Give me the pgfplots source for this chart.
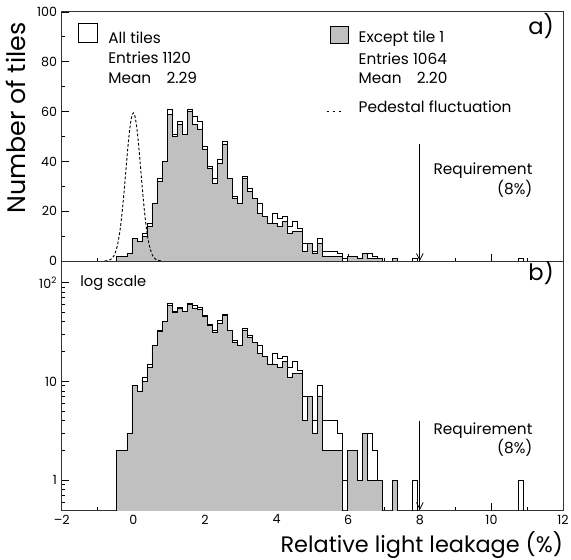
\documentclass[border=0pt]{standalone}
\usepackage{pgfplots}
\pgfplotsset{compat=1.18}
\usepackage{pgfplotstable}
\usetikzlibrary{arrows.meta}
\usepackage{fontspec}
\setmainfont{Poppins}
\definecolor{histgray}{RGB}{192,192,192}
\definecolor{framecol}{RGB}{50,50,50}

\pgfplotstableread{
x A E
-0.60 0 0
-0.46 2 2
-0.32 2 2
-0.18 3 3
-0.04 9 9
0.10 8 8
0.24 11 10
0.38 15 14
0.52 23 23
0.66 33 32
0.80 40 40
0.94 61 59
1.08 51 50
1.22 56 55
1.36 51 51
1.50 61 60
1.64 58 55
1.78 56 53
1.92 46 45
2.06 38 37
2.20 33 31
2.34 41 39
2.48 48 47
2.62 33 33
2.76 26 25
2.90 23 23
3.04 34 33
3.18 29 28
3.32 25 25
3.46 23 19
3.60 18 18
3.74 15 15
3.88 19 15
4.02 17 14
4.16 18 16
4.30 14 11
4.44 16 12
4.58 13 12
4.72 7 4
4.86 7 7
5.00 4 3
5.14 9 7
5.28 4 2
5.42 4 2
5.56 4 2
5.70 3 2
5.84 1 0
5.98 2 2
6.12 2 2
6.26 1 1
6.40 3 3
6.54 3 1
6.68 2 1
6.82 1 1
6.96 0 0
7.10 0 0
7.24 1 1
7.38 0 0
7.52 0 0
7.66 0 0
7.80 1 0
7.94 0 0
8.08 0 0
8.22 0 0
8.36 0 0
8.50 0 0
8.64 0 0
8.78 0 0
8.92 0 0
9.06 0 0
9.20 0 0
9.34 0 0
9.48 0 0
9.62 0 0
9.76 0 0
9.90 0 0
10.04 0 0
10.18 0 0
10.32 0 0
10.46 0 0
10.60 0 0
10.74 1 0
10.88 0 0
11.02 0 0
}\hist

\pgfplotstableread{
x g
-0.80 0.04
-0.75 0.10
-0.70 0.23
-0.65 0.49
-0.60 1.00
-0.55 1.93
-0.50 3.50
-0.45 6.0
-0.40 9.7
-0.35 14.8
-0.30 21.5
-0.25 29.3
-0.20 37.8
-0.15 46.1
-0.10 53.1
-0.05 57.8
0.00 59.5
0.05 57.8
0.10 53.1
0.15 46.1
0.20 37.8
0.25 29.3
0.30 21.5
0.35 14.8
0.40 9.7
0.45 6.0
0.50 3.50
0.55 1.93
0.60 1.00
0.65 0.49
0.70 0.23
0.75 0.10
0.80 0.04
}\ped

\begin{document}
\begin{tikzpicture}
\useasboundingbox (0,0) rectangle (428.25pt,-420pt);
\pgfplotsset{
 base/.style={
  scale only axis, width=376pt, height=186.75pt,
  xmin=-2, xmax=12,
  xtick={-2,0,...,12}, minor x tick num=1,
  tick align=inside, xtick pos=bottom, ytick pos=left,
  axis line style={line width=0.75pt, draw=framecol},
  every tick/.style={line width=0.6pt, black},
  major tick length=5.5pt, minor tick length=2.5pt,
  tick label style={font=\fontsize{9.5}{10}\selectfont},
  /pgf/number format/assume math mode=true,
 }
}
\begin{axis}[base, at={(46.3pt,-9pt)}, anchor=north west,
  ymin=0, ymax=100, ytick={0,20,...,100}, minor y tick num=1, xticklabels={}]
 \addplot[const plot mark left, fill=histgray, draw=black, line width=0.6pt] table[x=x,y=E]{\hist} \closedcycle;
 \addplot[const plot mark left, draw=black, line width=0.6pt] table[x=x,y=A]{\hist};
 \addplot[smooth, dash pattern=on 2pt off 1.5pt, line width=0.7pt] table[x=x,y=g]{\ped};
 \draw[-{Straight Barb[length=5pt,width=5pt]}, line width=0.6pt] (axis cs:8,47) -- (axis cs:8,0);
 \node[anchor=north east, align=right, font=\fontsize{11.5}{13.5}\selectfont, inner sep=0pt] at (axis cs:11.15,39.5) {Requirement\\(8\%)};
 % legend
 \draw[line width=0.6pt] (axis cs:-1.545,87.6) rectangle (axis cs:-1.01,95.5);
 \draw[line width=0.6pt, fill=histgray] (axis cs:5.49,87.4) rectangle (axis cs:6.0,94.1);
 \begin{scope}[every node/.style={anchor=west, inner sep=0pt, font=\fontsize{11.5}{12}\selectfont}]
 \node at (axis cs:-0.707,89.7) {All tiles};
 \node at (axis cs:-0.707,81.5) {Entries 1120};
 \node at (axis cs:-0.707,73.5) {Mean\quad 2.29};
 \node at (axis cs:6.285,89.4) {Except tile 1};
 \node at (axis cs:6.285,81.4) {Entries 1064};
 \node at (axis cs:6.285,73.4) {Mean\quad 2.20};
 \node at (axis cs:6.285,62) {Pedestal fluctuation};
 \end{scope}
 \draw[dash pattern=on 2pt off 2.5pt, line width=0.7pt] (axis cs:5.40,60) -- (axis cs:5.90,60);
 \node[font=\fontsize{17}{18}\selectfont, inner sep=0pt] at (axis cs:11.39,94.5) {a)};
\end{axis}

\begin{axis}[base, ymode=log, at={(46.3pt,-195.75pt)}, anchor=north west,
  ymin=0.5, ymax=165, ytick={1,10,100}, yticklabels={1,10,10\textsuperscript{2}},
  minor ytick={0.6,0.7,0.8,0.9,2,3,4,5,6,7,8,9,20,30,40,50,60,70,80,90},
  xticklabels={–2,0,2,4,6,8,10,12}]
 \addplot[const plot mark left, fill=histgray, draw=black, line width=0.6pt] table[x=x,y expr={max(\thisrow{E},0.01)}]{\hist} -- cycle;
 \addplot[const plot mark left, draw=black, line width=0.6pt] table[x=x,y expr={max(\thisrow{A},0.01)}]{\hist};
 \draw[-{Straight Barb[length=5pt,width=5pt]}, line width=0.6pt] (axis cs:8,4) -- (axis cs:8,0.5);
 \node[anchor=north east, align=right, font=\fontsize{11.5}{13.5}\selectfont, inner sep=0pt] at (axis cs:11.15,3.85) {Requirement\\(8\%)};
 \node[anchor=west, inner sep=0pt, font=\fontsize{11}{12}\selectfont] at (axis cs:-1.49,99) {log scale};
 \node[font=\fontsize{17}{18}\selectfont, inner sep=0pt] at (axis cs:11.39,127) {b)};
\end{axis}

\node[rotate=90, font=\fontsize{19}{21}\selectfont, inner sep=0pt] at (12pt,-88.5pt) {Number of tiles};
\node[anchor=east, font=\fontsize{16.8}{19}\selectfont, inner sep=0pt] at (422.5pt,-409pt) {Relative light leakage (\%)};
\end{tikzpicture}
\end{document}
